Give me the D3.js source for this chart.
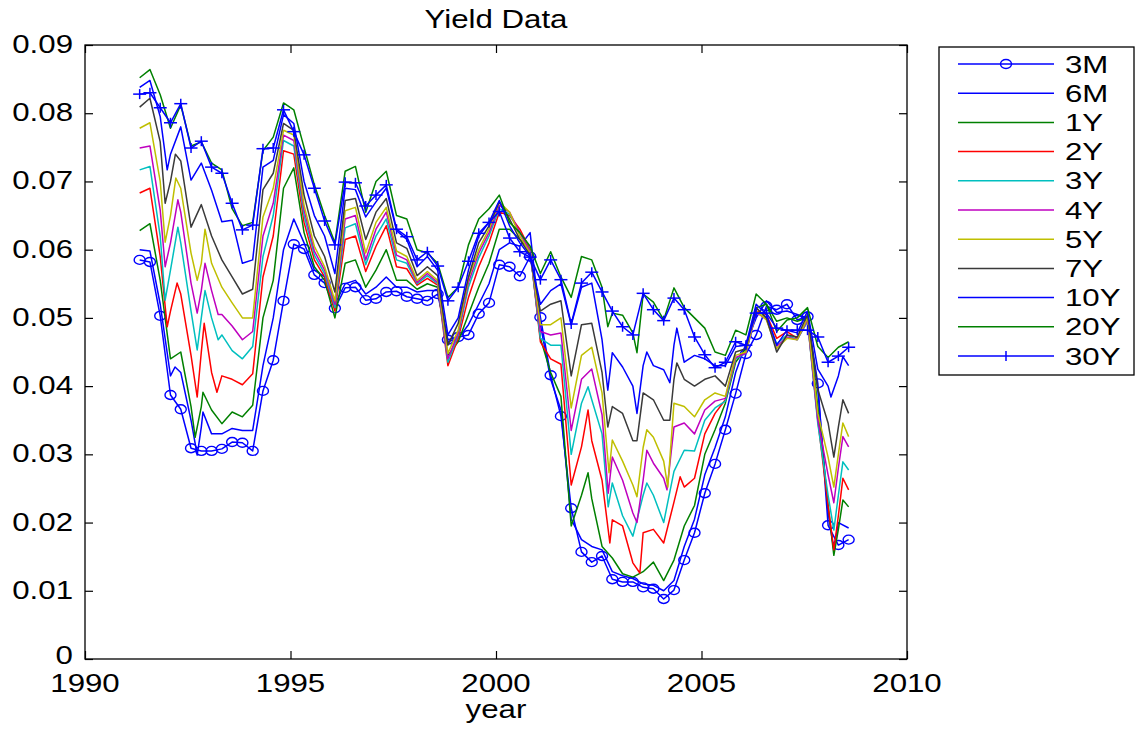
<!DOCTYPE html>
<html>
<head>
<meta charset="utf-8">
<script src="https://cdn.jsdelivr.net/npm/d3@7"></script>
<style>
  body { margin: 0; background: #fff; }
  text { font-family: "Liberation Sans", Arial, Helvetica, sans-serif; fill: #000; }
</style>
</head>
<body>
<svg id="chart" width="1144" height="729"></svg>
<script>
// Quarterly observation dates (decimal years)
const years = [
  1991.33, 1991.58, 1991.83,
  1992.08, 1992.33, 1992.58, 1992.83, 1993.08, 1993.33, 1993.58, 1993.83,
  1994.08, 1994.33, 1994.58, 1994.83, 1995.08, 1995.33, 1995.58, 1995.83,
  1996.08, 1996.33, 1996.58, 1996.83, 1997.08, 1997.33, 1997.58, 1997.83,
  1998.08, 1998.33, 1998.58, 1998.83, 1999.08, 1999.33, 1999.58, 1999.83,
  2000.08, 2000.33, 2000.58, 2000.83, 2001.08, 2001.33, 2001.58, 2001.83,
  2002.08, 2002.33, 2002.58, 2002.83, 2003.08, 2003.33, 2003.58, 2003.83,
  2004.08, 2004.33, 2004.58, 2004.83, 2005.08, 2005.33, 2005.58, 2005.83,
  2006.08, 2006.33, 2006.58, 2006.83, 2007.08, 2007.33, 2007.58, 2007.83,
  2008.08, 2008.33, 2008.58
];

// Quarterly yields by maturity
const y3M = [
  .0585,.0582,.0503,.0387,.0366,.0309,.0305,.0305,.0308,.0318,
  .0317,.0305,.0393,.0438,.0525,.0608,.0601,.0563,.0551,.0514,
  .0544,.0545,.0526,.0528,.0538,.0539,.0531,.0528,.0525,.0535,
  .0468,.0472,.0475,.0506,.0522,.0578,.0575,.0561,.0590,.0501,
  .0416,.0356,.0221,.0157,.0142,.0151,.0117,.0113,.0113,.0105,
  .0103,.0088,.0101,.0145,.0185,.0243,.0286,.0336,.0389,.0447,
  .0475,.0517,.0512,.0520,.0497,.0502,.0404,.0196,.0167,.0175];
const y6M = [
  .0600,.0598,.0520,.0415,.0420,.0350,.0340,.0330,.0330,.0338,
  .0335,.0335,.0430,.0500,.0600,.0645,.0610,.0570,.0560,.0520,
  .0550,.0555,.0535,.0545,.0560,.0545,.0545,.0538,.0540,.0540,
  .0465,.0470,.0490,.0520,.0550,.0600,.0610,.0605,.0625,.0490,
  .0410,.0365,.0205,.0175,.0165,.0160,.0128,.0122,.0118,.0110,
  .0108,.0100,.0115,.0165,.0205,.0270,.0310,.0355,.0420,.0462,
  .0500,.0525,.0508,.0510,.0505,.0500,.0395,.0215,.0200,.0192];
const y1Y = [
  .0628,.0638,.0555,.0440,.0450,.0370,.0370,.0365,.0345,.0362,
  .0355,.0372,.0500,.0555,.0690,.0720,.0625,.0575,.0555,.0500,
  .0580,.0585,.0545,.0570,.0600,.0555,.0555,.0542,.0550,.0545,
  .0445,.0465,.0505,.0545,.0580,.0630,.0630,.0615,.0600,.0470,
  .0420,.0385,.0195,.0240,.0235,.0165,.0148,.0125,.0120,.0128,
  .0142,.0115,.0145,.0195,.0225,.0300,.0336,.0375,.0435,.0455,
  .0515,.0520,.0495,.0500,.0495,.0500,.0370,.0225,.0190,.0223];
const y2Y = [
  .0683,.0690,.0590,.0510,.0535,.0445,.0450,.0420,.0415,.0410,
  .0402,.0418,.0560,.0620,.0745,.0740,.0640,.0585,.0560,.0510,
  .0615,.0620,.0568,.0605,.0635,.0575,.0572,.0548,.0558,.0548,
  .0430,.0470,.0530,.0575,.0610,.0655,.0650,.0630,.0600,.0465,
  .0440,.0432,.0255,.0311,.0320,.0262,.0204,.0195,.0141,.0185,
  .0190,.0170,.0230,.0252,.0265,.0330,.0360,.0380,.0440,.0450,
  .0510,.0505,.0470,.0480,.0470,.0495,.0350,.0225,.0210,.0248];
const y3Y = [
  .0717,.0722,.0620,.0570,.0610,.0510,.0500,.0500,.0475,.0452,
  .0440,.0458,.0590,.0650,.0760,.0752,.0650,.0592,.0565,.0515,
  .0632,.0638,.0578,.0620,.0645,.0585,.0580,.0550,.0562,.0550,
  .0435,.0475,.0545,.0588,.0620,.0660,.0652,.0625,.0598,.0470,
  .0460,.0460,.0300,.0375,.0380,.0330,.0258,.0210,.0180,.0240,
  .0240,.0200,.0275,.0306,.0305,.0350,.0368,.0378,.0440,.0448,
  .0508,.0500,.0462,.0475,.0468,.0495,.0345,.0240,.0240,.0277];
const y4Y = [
  .0749,.0752,.0658,.0610,.0655,.0551,.0540,.0540,.0505,.0488,
  .0468,.0480,.0620,.0668,.0768,.0760,.0658,.0598,.0570,.0520,
  .0645,.0650,.0585,.0630,.0655,.0592,.0585,.0552,.0565,.0552,
  .0440,.0478,.0552,.0595,.0625,.0665,.0655,.0625,.0597,.0480,
  .0475,.0478,.0335,.0410,.0425,.0358,.0296,.0262,.0214,.0262,
  .0287,.0265,.0340,.0346,.0330,.0365,.0378,.0382,.0442,.0448,
  .0508,.0498,.0458,.0472,.0468,.0497,.0350,.0270,.0280,.0311];
const y5Y = [
  .0778,.0786,.0700,.0650,.0690,.0595,.0580,.0580,.0545,.0522,
  .0500,.0500,.0648,.0690,.0775,.0768,.0665,.0605,.0575,.0525,
  .0657,.0662,.0595,.0640,.0662,.0598,.0590,.0555,.0568,.0555,
  .0448,.0482,.0558,.0600,.0630,.0670,.0655,.0620,.0595,.0490,
  .0490,.0500,.0368,.0445,.0457,.0390,.0321,.0290,.0255,.0310,
  .0325,.0290,.0375,.0370,.0355,.0380,.0390,.0385,.0445,.0450,
  .0510,.0497,.0455,.0470,.0468,.0500,.0360,.0296,.0300,.0326];
const y7Y = [
  .0809,.0822,.0758,.0700,.0730,.0633,.0666,.0620,.0585,.0560,
  .0535,.0542,.0688,.0712,.0785,.0775,.0680,.0620,.0590,.0538,
  .0672,.0675,.0615,.0655,.0675,.0610,.0602,.0562,.0575,.0562,
  .0460,.0492,.0560,.0610,.0635,.0670,.0645,.0615,.0592,.0510,
  .0520,.0525,.0415,.0490,.0492,.0420,.0370,.0360,.0320,.0390,
  .0380,.0350,.0410,.0410,.0400,.0410,.0415,.0400,.0450,.0455,
  .0515,.0500,.0450,.0475,.0472,.0505,.0395,.0346,.0340,.0360];
const y10Y = [
  .0838,.0848,.0795,.0740,.0780,.0702,.0727,.0687,.0641,.0643,
  .0580,.0585,.0721,.0731,.0798,.0785,.0700,.0650,.0620,.0565,
  .0690,.0688,.0648,.0670,.0690,.0628,.0615,.0575,.0590,.0570,
  .0475,.0500,.0570,.0620,.0640,.0672,.0635,.0610,.0590,.0520,
  .0540,.0550,.0490,.0545,.0551,.0468,.0449,.0428,.0400,.0430,
  .0430,.0424,.0460,.0435,.0445,.0440,.0430,.0430,.0458,.0460,
  .0520,.0505,.0460,.0482,.0478,.0510,.0425,.0400,.0415,.0430];
const y20Y = [
  .0852,.0864,.0827,.0778,.0812,.0752,.0758,.0727,.0717,.0660,
  .0635,.0640,.0745,.0765,.0815,.0805,.0750,.0695,.0650,.0610,
  .0715,.0722,.0655,.0700,.0715,.0650,.0645,.0600,.0595,.0580,
  .0530,.0545,.0607,.0645,.0660,.0680,.0640,.0625,.0605,.0565,
  .0597,.0560,.0530,.0590,.0585,.0545,.0507,.0504,.0478,.0535,
  .0523,.0497,.0544,.0515,.0500,.0485,.0450,.0445,.0482,.0475,
  .0535,.0520,.0480,.0497,.0500,.0515,.0458,.0442,.0457,.0465];
const y30Y = [
  .0828,.0830,.0808,.0786,.0814,.0749,.0759,.0721,.0712,.0668,
  .0629,.0636,.0748,.0749,.0805,.0773,.0739,.0690,.0642,.0607,
  .0699,.0698,.0664,.0680,.0695,.0630,.0619,.0585,.0597,.0576,
  .0525,.0545,.0583,.0624,.0640,.0656,.0617,.0597,.0589,.0556,
  .0585,.0556,.0491,.0551,.0567,.0538,.0510,.0487,.0475,.0536,
  .0512,.0496,.0529,.0512,.0472,.0446,.0427,.0435,.0465,.0460,
  .0507,.0507,.0485,.0482,.0482,.0482,.0472,.0435,.0444,.0457];

// Additional between-quarter turning points, [year, yield]
const x3M = [];
const x6M = [[1992.19,.0428],[1992.73,.0299],[1992.87,.0362],[2008.22,.0160]];
const x1Y = [[1992.68,.0325],[1992.87,.0391],[2002.24,.0273],[2008.22,.0152],[2008.44,.0233]];
const x2Y = [[1992.00,.0487],[1992.24,.0551],[1992.73,.0384],[1992.90,.0492],[1993.21,.0391],
             [2002.24,.0365],[2002.77,.0170],[2003.50,.0126],[2004.48,.0267],[2008.22,.0160],[2008.44,.0265]];
const x3Y = [[1991.95,.0526],[1992.26,.0633],[1992.73,.0453],[1992.92,.0540],[1993.24,.0468],
             [2002.24,.0399],[2002.73,.0223],[2003.67,.0258],[2008.22,.0189],[2008.44,.0289]];
const x4Y = [[1991.95,.0575],[1992.26,.0673],[1992.73,.0507],[1992.92,.0580],[1993.24,.0505],
             [2002.73,.0243],[2003.43,.0200],[2003.67,.0306],[2004.16,.0248],[2008.22,.0229],[2008.44,.0326]];
const x5Y = [[1991.95,.0611],[1992.21,.0705],[1992.73,.0555],[1992.92,.0630],
             [2002.75,.0273],[2003.43,.0238],[2003.67,.0336],[2004.18,.0252],[2008.22,.0252],[2008.44,.0346]];
const x7Y = [[1991.95,.0668],[1992.20,.0740],[2002.72,.0340],[2003.43,.0320],
             [2004.23,.0350],[2004.40,.0434],[2008.22,.0296],[2008.44,.0380]];
const x10Y = [[1992.00,.0717],[2002.72,.0394],[2003.43,.0360],[2003.67,.0450],
              [2004.23,.0405],[2004.40,.0485],[2008.15,.0384],[2008.44,.0443]];
const x20Y = [[2002.72,.0487],[2003.43,.0449]];
const x30Y = [];

const seriesNames = ["3M", "6M", "1Y", "2Y", "3Y", "4Y", "5Y", "7Y", "10Y", "20Y", "30Y"];
const seriesValues = [y3M, y6M, y1Y, y2Y, y3Y, y4Y, y5Y, y7Y, y10Y, y20Y, y30Y];
const seriesExtra = [x3M, x6M, x1Y, x2Y, x3Y, x4Y, x5Y, x7Y, x10Y, x20Y, x30Y];
const xTicks = [1990, 1995, 2000, 2005, 2010];
const yTicks = [0, 0.01, 0.02, 0.03, 0.04, 0.05, 0.06, 0.07, 0.08, 0.09];
const yTickLabels = ["0", "0.01", "0.02", "0.03", "0.04", "0.05", "0.06", "0.07", "0.08", "0.09"];

// Styling
const colors = ["#0000ff", "#0000ff", "#008000", "#ff0000", "#00bfbf", "#bf00bf",
                "#bfbf00", "#3a3a3a", "#0000ff", "#008000", "#0000ff"];
const markers = ["circle", null, null, null, null, null, null, null, null, null, "plus"];
const plot = { left: 85, right: 907, top: 45, bottom: 659 };
const fontSize = 25, stretch = 1.25;

const svg = d3.select("#chart");
const x = d3.scaleLinear().domain([1990, 2010]).range([plot.left, plot.right]);
const y = d3.scaleLinear().domain([0, 0.09]).range([plot.bottom, plot.top]);

// text drawn slightly wider than the font's natural proportions
function label(parent, px, py, str, anchor, size, sx) {
  return parent.append("text")
    .attr("transform", `translate(${px},${py}) scale(${sx},1)`)
    .attr("text-anchor", anchor)
    .style("font-size", size + "px")
    .text(str);
}

// quarterly points plus turning points, in date order
function seriesPoints(vals, extra) {
  return years.map((t, i) => [t, vals[i]]).concat(extra).sort((a, b) => a[0] - b[0]);
}

// Series
const lineGen = d3.line().x(d => x(d[0])).y(d => y(d[1]));
const seriesG = svg.append("g");
seriesValues.forEach((vals, s) => {
  seriesG.append("path")
    .datum(seriesPoints(vals, seriesExtra[s]))
    .attr("d", lineGen)
    .attr("fill", "none")
    .attr("stroke", colors[s])
    .attr("stroke-width", 1.5)
    .attr("stroke-linejoin", "round");
  if (markers[s] === "circle") {
    seriesG.append("g").selectAll("ellipse").data(vals).join("ellipse")
      .attr("cx", (d, i) => x(years[i])).attr("cy", d => y(d))
      .attr("rx", 5.5).attr("ry", 4.5)
      .attr("fill", "none").attr("stroke", colors[s]).attr("stroke-width", 1.4);
  } else if (markers[s] === "plus") {
    const pg = seriesG.append("g").attr("stroke", colors[s]).attr("stroke-width", 1.5);
    pg.selectAll("line.h").data(vals).join("line").attr("class", "h")
      .attr("x1", (d, i) => x(years[i]) - 6.5).attr("x2", (d, i) => x(years[i]) + 6.5)
      .attr("y1", d => y(d)).attr("y2", d => y(d));
    pg.selectAll("line.v").data(vals).join("line").attr("class", "v")
      .attr("x1", (d, i) => x(years[i])).attr("x2", (d, i) => x(years[i]))
      .attr("y1", d => y(d) - 5).attr("y2", d => y(d) + 5);
  }
});

// Axes box with inward ticks on all four sides
function tickAxis(axis, tx, ty) {
  const g = svg.append("g").attr("transform", `translate(${tx},${ty})`).call(axis);
  g.select(".domain").remove();
  g.selectAll("text").remove();
  g.selectAll("line").attr("stroke", "#000").attr("stroke-width", 1.2);
}
tickAxis(d3.axisBottom(x).tickValues(xTicks).tickSizeInner(-8).tickSizeOuter(0), 0, plot.bottom);
tickAxis(d3.axisTop(x).tickValues(xTicks).tickSizeInner(-8).tickSizeOuter(0), 0, plot.top);
tickAxis(d3.axisLeft(y).tickValues(yTicks).tickSizeInner(-8).tickSizeOuter(0), plot.left, 0);
tickAxis(d3.axisRight(y).tickValues(yTicks).tickSizeInner(-8).tickSizeOuter(0), plot.right, 0);
svg.append("rect")
  .attr("x", plot.left).attr("y", plot.top)
  .attr("width", plot.right - plot.left).attr("height", plot.bottom - plot.top)
  .attr("fill", "none").attr("stroke", "#000").attr("stroke-width", 1.3);

// Tick labels (the zero label sits a little higher to clear the year labels)
yTicks.forEach((v, i) => label(svg, plot.left - 12, y(v) + (v === 0 ? 5 : 8), yTickLabels[i], "end", fontSize, stretch));
xTicks.forEach(v => label(svg, x(v), plot.bottom + 33, String(v), "middle", fontSize, stretch));

// Title and axis label
label(svg, (plot.left + plot.right) / 2, 28, "Yield Data", "middle", fontSize, stretch);
label(svg, (plot.left + plot.right) / 2, 718, "year", "middle", fontSize, stretch);

// Legend
const leg = svg.append("g");
leg.append("rect")
  .attr("x", 939).attr("y", 47).attr("width", 195).attr("height", 328)
  .attr("fill", "#fff").attr("stroke", "#000").attr("stroke-width", 1.3);
const legRow = d3.scalePoint().domain(seriesNames).range([64, 356]);
seriesNames.forEach((name, s) => {
  const ly = legRow(name);
  leg.append("line").attr("x1", 958).attr("x2", 1054).attr("y1", ly).attr("y2", ly)
    .attr("stroke", colors[s]).attr("stroke-width", 1.5);
  if (markers[s] === "circle") {
    leg.append("ellipse").attr("cx", 1006).attr("cy", ly).attr("rx", 5.5).attr("ry", 4.5)
      .attr("fill", "none").attr("stroke", colors[s]).attr("stroke-width", 1.4);
  } else if (markers[s] === "plus") {
    leg.append("line").attr("x1", 1006).attr("x2", 1006).attr("y1", ly - 5).attr("y2", ly + 5)
      .attr("stroke", colors[s]).attr("stroke-width", 1.5);
  }
  label(leg, 1065, ly + 8.5, name, "start", 24, 1.3);
});
</script>
</body>
</html>
